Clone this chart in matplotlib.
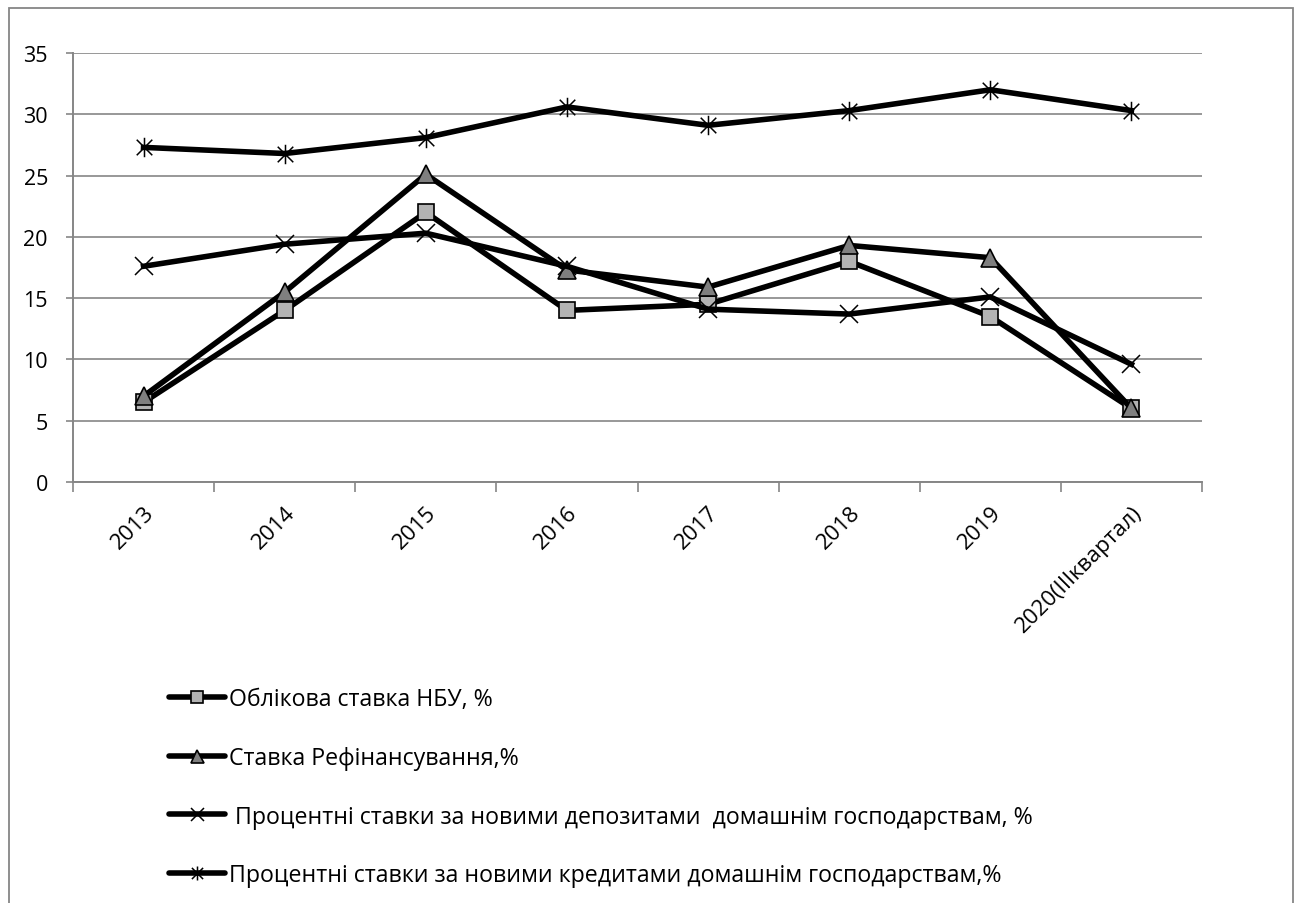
import numpy as np
import matplotlib
matplotlib.use("Agg")
import matplotlib.pyplot as plt
import matplotlib.transforms as mtransforms
from matplotlib.lines import Line2D
from matplotlib.path import Path

plt.rcParams['font.family'] = ['Open Sans', 'DejaVu Sans']

# Дані
роки = ["2013", "2014", "2015", "2016", "2017", "2018", "2019", "2020(IIIквартал)"]
облікова = [6.5, 14.0, 22.0, 14.0, 14.5, 18.0, 13.5, 6.0]
рефінансування = [7.0, 15.5, 25.1, 17.3, 15.9, 19.3, 18.3, 6.0]
депозити = [17.6, 19.4, 20.3, 17.6, 14.1, 13.7, 15.1, 9.6]
кредити = [27.3, 26.8, 28.1, 30.6, 29.1, 30.3, 32.0, 30.3]

підписи = [
    "Облікова ставка НБУ, %",
    "Ставка Рефінансування,%",
    " Процентні ставки за новими депозитами  домашнім господарствам, %",
    "Процентні ставки за новими кредитами домашнім господарствам,%",
]

СІРИЙ = "#868686"

# маркер-зірочка: хрестик з вертикальною рискою
зірка = Path(
    [(-1, -1), (1, 1), (-1, 1), (1, -1), (0, -1.25), (0, 1.25)],
    [Path.MOVETO, Path.LINETO, Path.MOVETO, Path.LINETO, Path.MOVETO, Path.LINETO],
)

стилі = [
    dict(marker='s', markersize=12, markerfacecolor='#b3b3b3', markeredgecolor='black', markeredgewidth=1.2),
    dict(marker='^', markersize=13, markerfacecolor='#7f7f7f', markeredgecolor='black', markeredgewidth=1.2),
    dict(marker='x', markersize=13, markeredgecolor='black', markeredgewidth=1.1),
    dict(marker=зірка, markersize=14, markerfacecolor='none', markeredgecolor='black', markeredgewidth=1.1),
]

fig = plt.figure(figsize=(13, 9.04), dpi=100)
ax = fig.add_axes([73 / 1300, 1 - 483 / 904, (1202 - 73) / 1300, (483 - 54) / 904])

x = np.arange(len(роки))
for ряд, стиль in zip([облікова, рефінансування, депозити, кредити], стилі):
    ax.plot(x, ряд, color='black', linewidth=4.0, solid_joinstyle='miter', **стиль)

ax.set_xlim(-0.5, len(роки) - 0.5)
ax.set_ylim(0, 35)
ax.set_yticks(np.arange(0, 36, 5))
ax.yaxis.grid(True, color=СІРИЙ, linewidth=1.2)
ax.set_axisbelow(True)

for сторона in ['top', 'right']:
    ax.spines[сторона].set_visible(False)
for сторона in ['left', 'bottom']:
    ax.spines[сторона].set_color(СІРИЙ)
    ax.spines[сторона].set_linewidth(1.4)

ax.tick_params(axis='y', length=5, width=1.2, color=СІРИЙ, pad=13, labelsize=15.5)
ax.set_xticks(x)
ax.set_xticks(np.arange(-0.5, len(роки)), minor=True)
ax.tick_params(axis='x', which='major', length=0, pad=14, labelsize=16)
ax.tick_params(axis='x', which='minor', length=7, width=1.2, color=СІРИЙ)
ax.set_xticklabels(роки, rotation=45, ha='right', va='top', rotation_mode='anchor')
зсув = mtransforms.ScaledTranslation(0, 0, fig.dpi_scale_trans)
for мітка in ax.get_xticklabels():
    мітка.set_transform(мітка.get_transform() + зсув)

# Легенда
елементи = [Line2D([], [], color='black', linewidth=4.0, solid_capstyle='round',
                   **{**с, 'markersize': с['markersize'] * 0.72})
            for с in стилі]
fig.legend(елементи, підписи, loc='upper left', bbox_to_anchor=(169 / 1300, 1 - 688 / 904),
           frameon=False, fontsize=16.7, labelspacing=1.5, handlelength=2.4, handletextpad=0.17,
           borderpad=0, borderaxespad=0)

# Рамка навколо діаграми
fig.patches.append(plt.Rectangle((9 / 1300, -0.05), (1293 - 9) / 1300, 0.05 + 1 - 9 / 904,
                                 transform=fig.transFigure, fill=False, edgecolor=СІРИЙ,
                                 linewidth=1.3, clip_on=False))

fig.savefig("out.png", dpi=100)
